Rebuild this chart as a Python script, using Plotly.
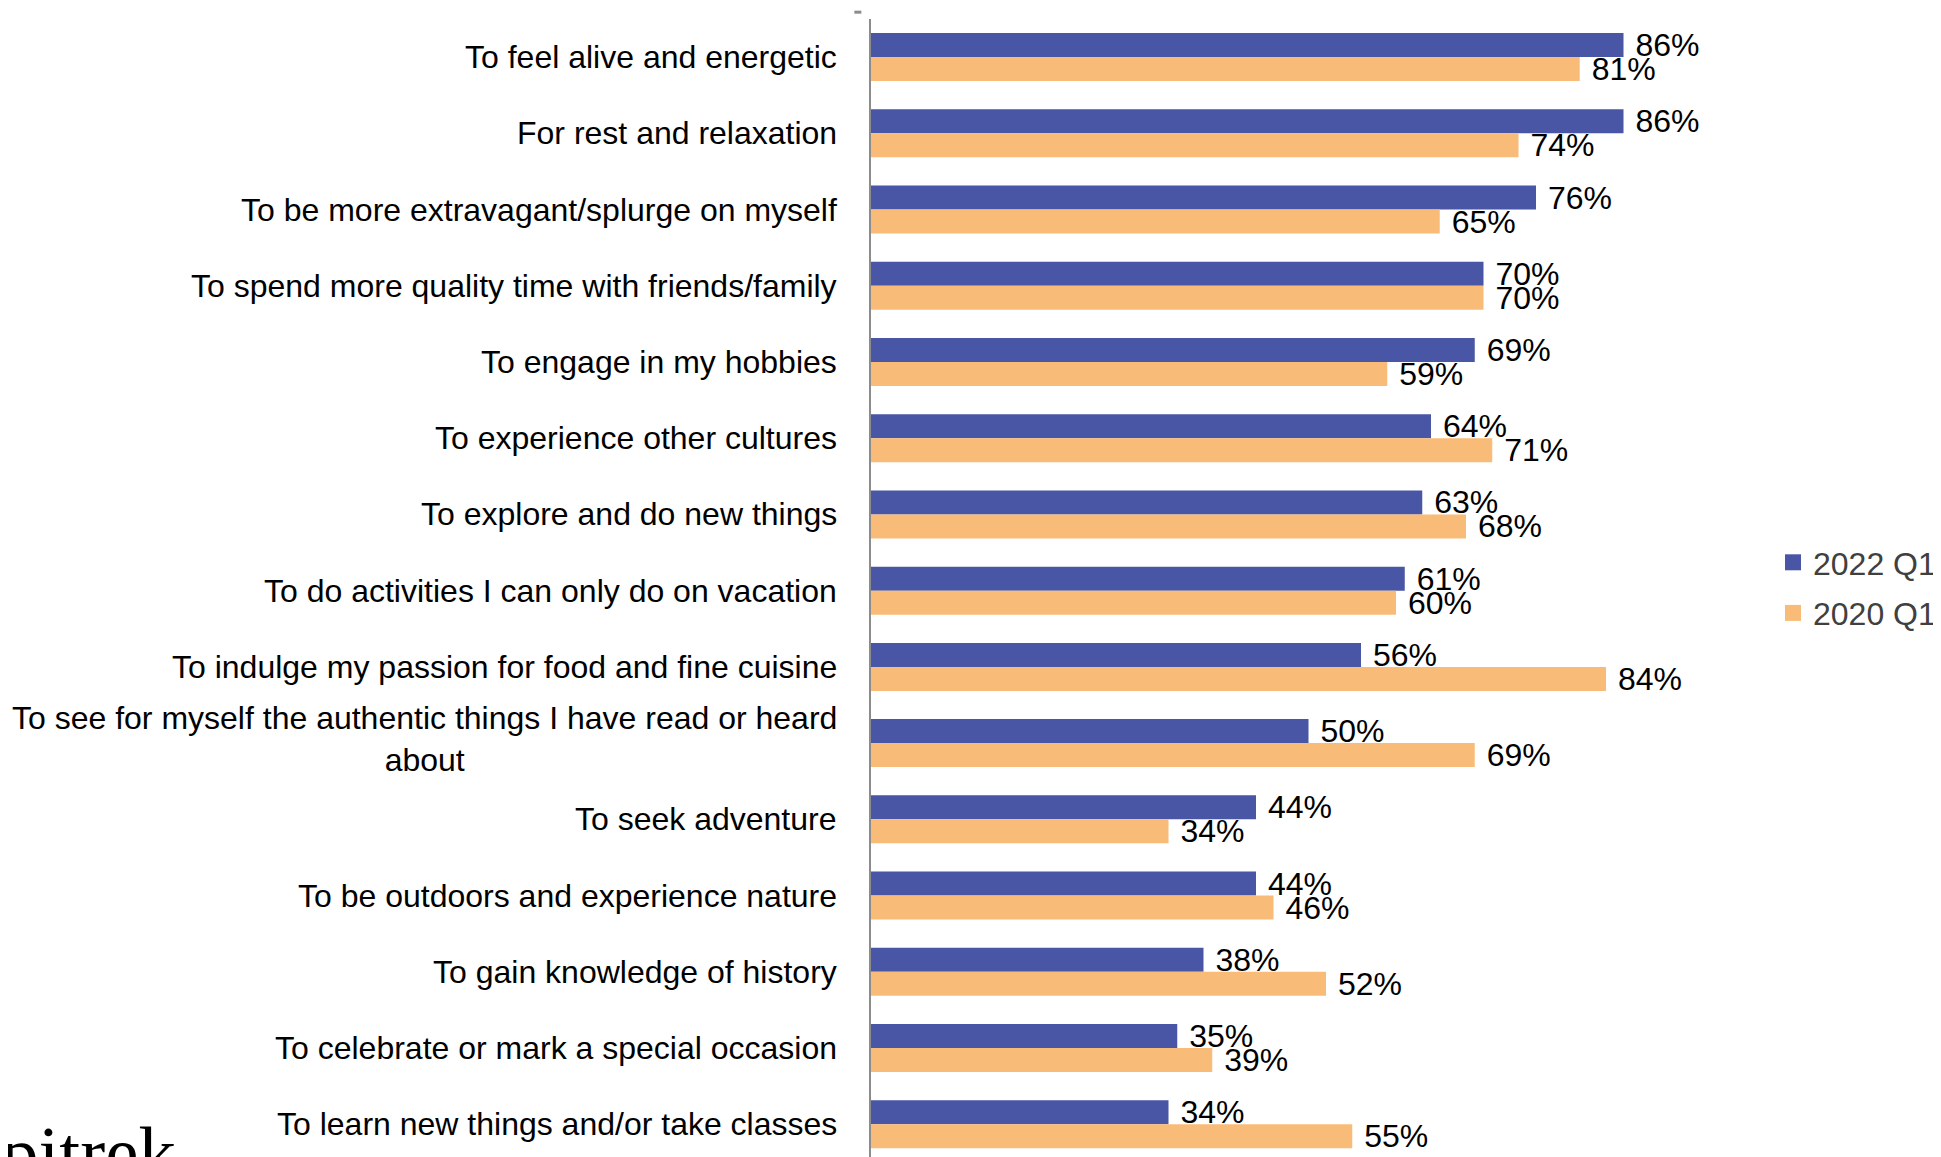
import plotly.graph_objects as go

categories = [
    "To feel alive and energetic",
    "For rest and relaxation",
    "To be more extravagant/splurge on myself",
    "To spend more quality time with friends/family",
    "To engage in my hobbies",
    "To experience other cultures",
    "To explore and do new things",
    "To do activities I can only do on vacation",
    "To indulge my passion for food and fine cuisine",
    "To see for myself the authentic things I have read or heard<br>about",
    "To seek adventure",
    "To be outdoors and experience nature",
    "To gain knowledge of history",
    "To celebrate or mark a special occasion",
    "To learn new things and/or take classes",
]
values_2022 = [86, 86, 76, 70, 69, 64, 63, 61, 56, 50, 44, 44, 38, 35, 34]
values_2020 = [81, 74, 65, 70, 59, 71, 68, 60, 84, 69, 34, 46, 52, 39, 55]
series_names = ["2022 Q1", "2020 Q1"]

BLUE = "#4856A5"
ORANGE = "#F8BC78"
FONT = "Liberation Sans, Arial, sans-serif"
FS = 32

idx = list(range(len(categories)))

fig = go.Figure()
for name, vals, col in [(series_names[0], values_2022, BLUE), (series_names[1], values_2020, ORANGE)]:
    fig.add_trace(go.Bar(
        y=idx, x=vals, name=name, orientation="h",
        marker=dict(color=col, line=dict(width=0)),
        text=[f"\u00a0{v}%" for v in vals],
        textposition="outside", cliponaxis=False, constraintext="none",
        textfont=dict(family=FONT, size=FS, color="#000000"),
        showlegend=False,
        hoverinfo="skip",
    ))
# legend entries with square markers
for name, col in [(series_names[0], BLUE), (series_names[1], ORANGE)]:
    fig.add_trace(go.Scatter(
        x=[None], y=[None], mode="markers", name=name,
        marker=dict(symbol="square", size=18, color=col),
        legendgroup=name, showlegend=True, hoverinfo="skip",
    ))

annotations = []
for i, c in enumerate(categories):
    annotations.append(dict(
        x=0, xref="paper", y=i, yref="y", text=c, showarrow=False,
        xanchor="right", yanchor="middle", align="center", xshift=-32,
        yshift=4 if "<br>" in c else 0,
        font=dict(family=FONT, size=FS, color="#000000"),
    ))
annotations.append(dict(
    x=0, xref="paper", y=0, yref="paper", text="pitrek", showarrow=False,
    xanchor="left", yanchor="middle", xshift=-872, yshift=5,
    font=dict(family="Liberation Serif, Times New Roman, serif", size=75, color="#000000"),
))

fig.update_layout(
    width=1933, height=1149,
    margin=dict(l=863, r=191, t=11, b=0, pad=0),
    paper_bgcolor="white", plot_bgcolor="white",
    barmode="group", bargap=0.37, bargroupgap=0,
    font=dict(family=FONT, size=FS, color="#000000"),
    xaxis=dict(range=[0, 100], showgrid=False, zeroline=False, showticklabels=False,
               showline=False, ticks=""),
    yaxis=dict(range=[14.43, -0.5], showgrid=False, zeroline=False, showticklabels=False,
               showline=True, linecolor="#8C8C8C", linewidth=2, ticks=""),
    legend=dict(x=1.031, xanchor="left", y=0.500, yanchor="middle",
                font=dict(family=FONT, size=FS, color="#404040"),
                tracegroupgap=6, bgcolor="rgba(0,0,0,0)"),
    showlegend=True,
    annotations=annotations,
    shapes=[dict(type="line", xref="paper", yref="paper",
                 x0=-0.019, x1=-0.011, y0=1.006, y1=1.006,
                 line=dict(color="#8C8C8C", width=3))],
)

fig.write_html("out.html")
